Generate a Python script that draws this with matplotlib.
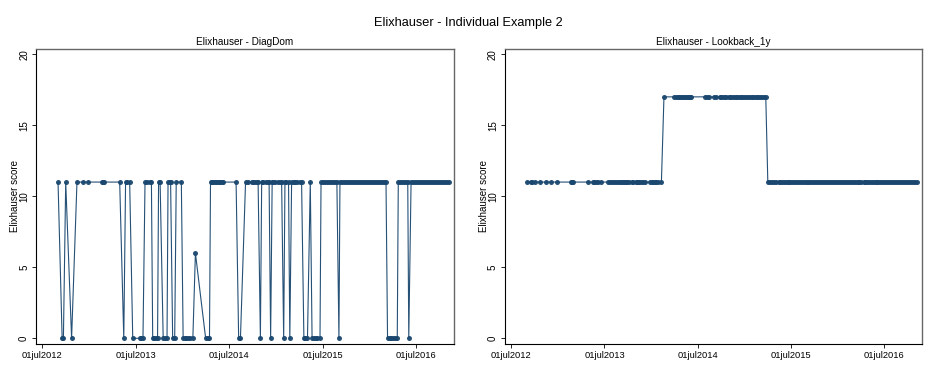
import matplotlib
matplotlib.use("Agg")
import matplotlib.pyplot as plt
import pandas as pd

plt.rcParams['font.family'] = ['Liberation Sans', 'DejaVu Sans']

# visit dates (shared by both panels)
visit_dates = [
    '2012-08-31', '2012-09-16', '2012-09-21', '2012-09-30', '2012-10-23', '2012-11-13', '2012-12-05', '2012-12-28',
    '2013-02-18', '2013-02-23', '2013-02-27', '2013-04-29', '2013-05-15', '2013-05-22', '2013-05-29', '2013-06-07',
    '2013-06-19', '2013-07-16', '2013-07-23', '2013-07-29', '2013-08-06', '2013-08-15', '2013-08-24', '2013-08-31',
    '2013-09-05', '2013-09-11', '2013-09-17', '2013-09-24', '2013-09-28', '2013-10-04', '2013-10-16', '2013-10-22',
    '2013-10-31', '2013-11-04', '2013-11-10', '2013-11-14', '2013-11-22', '2013-11-30', '2013-12-06', '2013-12-26',
    '2014-01-02', '2014-01-08', '2014-01-14', '2014-01-20', '2014-01-27', '2014-02-09', '2014-02-19', '2014-03-31',
    '2014-04-08', '2014-04-15', '2014-04-19', '2014-04-23', '2014-04-29', '2014-05-05', '2014-05-11', '2014-05-17',
    '2014-05-23', '2014-05-28', '2014-06-03', '2014-06-06', '2014-07-28', '2014-08-07', '2014-08-14', '2014-09-03',
    '2014-09-11', '2014-09-27', '2014-10-02', '2014-10-08', '2014-10-16', '2014-10-22', '2014-10-31', '2014-11-05',
    '2014-11-12', '2014-11-20', '2014-11-28', '2014-12-04', '2014-12-10', '2014-12-16', '2014-12-21', '2014-12-29',
    '2015-01-06', '2015-01-14', '2015-01-22', '2015-01-30', '2015-02-04', '2015-02-10', '2015-02-18', '2015-02-23',
    '2015-03-02', '2015-03-10', '2015-03-17', '2015-03-25', '2015-04-02', '2015-04-10', '2015-04-19', '2015-04-25',
    '2015-05-03', '2015-05-14', '2015-05-21', '2015-05-27', '2015-06-04', '2015-06-11', '2015-06-21', '2015-06-25',
    '2015-07-03', '2015-07-11', '2015-07-18', '2015-07-26', '2015-08-03', '2015-08-11', '2015-08-19', '2015-08-26',
    '2015-09-03', '2015-09-07', '2015-09-15', '2015-09-23', '2015-10-01', '2015-10-08', '2015-10-16', '2015-10-24',
    '2015-11-01', '2015-11-09', '2015-11-16', '2015-11-24', '2015-12-02', '2015-12-10', '2015-12-18', '2015-12-26',
    '2016-01-02', '2016-01-10', '2016-01-18', '2016-01-26', '2016-02-03', '2016-02-09', '2016-02-17', '2016-02-25',
    '2016-03-05', '2016-03-11', '2016-03-19', '2016-03-26', '2016-04-03', '2016-04-11', '2016-04-18', '2016-04-22',
    '2016-04-29', '2016-05-06', '2016-05-14', '2016-05-22', '2016-05-29', '2016-06-02', '2016-06-11', '2016-06-19',
    '2016-06-27', '2016-07-05', '2016-07-13', '2016-07-20', '2016-07-28', '2016-08-05', '2016-08-13', '2016-08-21',
    '2016-08-28', '2016-09-05', '2016-09-13', '2016-09-21', '2016-09-29', '2016-10-06', '2016-10-14', '2016-10-22',
    '2016-10-30', '2016-11-06',
]

diagdom = [
    11, 0, 0, 11, 0, 11, 11, 11,
    11, 11, 11, 11, 0, 11, 11, 11,
    0, 0, 0, 0, 11, 11, 11, 11,
    0, 0, 0, 0, 11, 11, 0, 0,
    0, 11, 11, 11, 0, 0, 11, 11,
    0, 0, 0, 0, 0, 0, 6, 0,
    0, 0, 11, 11, 11, 11, 11, 11,
    11, 11, 11, 11, 11, 0, 0, 11,
    11, 11, 11, 11, 11, 11, 0, 11,
    11, 11, 11, 11, 0, 11, 11, 11,
    11, 11, 11, 0, 11, 11, 11, 0,
    11, 11, 11, 11, 11, 11, 0, 0,
    0, 11, 0, 0, 0, 0, 0, 11,
    11, 11, 11, 11, 11, 11, 11, 11,
    0, 11, 11, 11, 11, 11, 11, 11,
    11, 11, 11, 11, 11, 11, 11, 11,
    11, 11, 11, 11, 11, 11, 11, 11,
    11, 0, 0, 0, 0, 0, 0, 11,
    11, 11, 11, 11, 11, 0, 11, 11,
    11, 11, 11, 11, 11, 11, 11, 11,
    11, 11, 11, 11, 11, 11, 11, 11,
    11, 11,
]

lookback_1y = [
    11, 11, 11, 11, 11, 11, 11, 11,
    11, 11, 11, 11, 11, 11, 11, 11,
    11, 11, 11, 11, 11, 11, 11, 11,
    11, 11, 11, 11, 11, 11, 11, 11,
    11, 11, 11, 11, 11, 11, 11, 11,
    11, 11, 11, 11, 11, 11, 17, 17,
    17, 17, 17, 17, 17, 17, 17, 17,
    17, 17, 17, 17, 17, 17, 17, 17,
    17, 17, 17, 17, 17, 17, 17, 17,
    17, 17, 17, 17, 17, 17, 17, 17,
    17, 17, 17, 17, 17, 17, 17, 17,
    17, 17, 17, 17, 11, 11, 11, 11,
    11, 11, 11, 11, 11, 11, 11, 11,
    11, 11, 11, 11, 11, 11, 11, 11,
    11, 11, 11, 11, 11, 11, 11, 11,
    11, 11, 11, 11, 11, 11, 11, 11,
    11, 11, 11, 11, 11, 11, 11, 11,
    11, 11, 11, 11, 11, 11, 11, 11,
    11, 11, 11, 11, 11, 11, 11, 11,
    11, 11, 11, 11, 11, 11, 11, 11,
    11, 11, 11, 11, 11, 11, 11, 11,
    11, 11,
]

tick_dates = ['2012-07-01', '2013-07-01', '2014-07-01', '2015-07-01', '2016-07-01']
tick_labels = ['01jul2012', '01jul2013', '01jul2014', '01jul2015', '01jul2016']
y_ticks = [0, 5, 10, 15, 20]

dates = pd.to_datetime(visit_dates)
navy = '#1a476f'

fig = plt.figure(figsize=(9.36, 3.67), dpi=100)
fig.suptitle('Elixhauser - Individual Example 2', fontsize=9.2, y=0.955)

panels = [
    ([0.0385, 0.0627, 0.4466, 0.8038], diagdom, 'Elixhauser - DiagDom'),
    ([0.5395, 0.0627, 0.4455, 0.8038], lookback_1y, 'Elixhauser - Lookback_1y'),
]

for rect, vals, title in panels:
    ax = fig.add_axes(rect)
    ax.plot(dates, vals, color=navy, lw=0.8, marker='o', markersize=3.6,
            markeredgewidth=0, alpha=0.95)
    ax.set_title(title, fontsize=7.2, pad=3)
    ax.set_ylim(-0.4, 20.37)
    ax.set_xlim(pd.Timestamp('2012-06-06'), pd.Timestamp('2016-11-26'))
    ax.set_yticks(y_ticks)
    ax.set_yticklabels([str(v) for v in y_ticks], rotation=90, va='center', fontsize=7)
    ax.set_xticks(pd.to_datetime(tick_dates))
    ax.set_xticklabels(tick_labels, fontsize=6.7)
    ax.set_ylabel('Elixhauser score', fontsize=7, labelpad=-1)
    ax.tick_params(axis='both', length=3, width=0.6, pad=2)
    for side in ['top', 'right']:
        ax.spines[side].set_color('#666666')
        ax.spines[side].set_linewidth(1.0)
    for side in ['left', 'bottom']:
        ax.spines[side].set_color('black')
        ax.spines[side].set_linewidth(0.8)

fig.savefig('out.png', dpi=100)
